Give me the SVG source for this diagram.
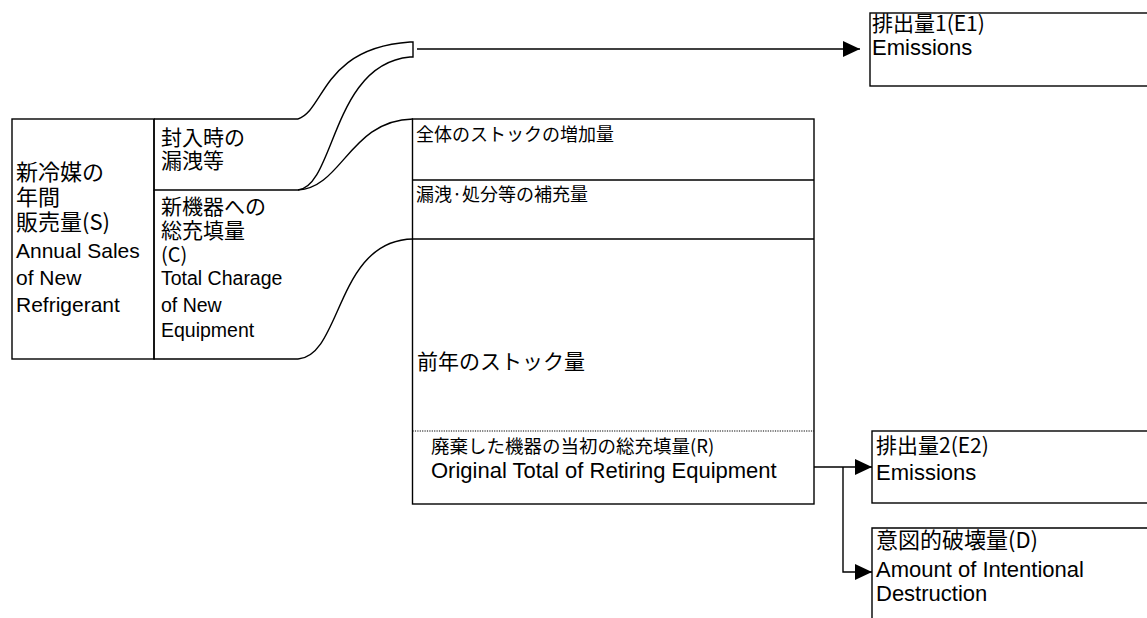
<svg xmlns="http://www.w3.org/2000/svg" width="1147" height="618" viewBox="0 0 1147 618">
<style>
.ln{fill:none;stroke:#000;stroke-width:1.4}
.bx{fill:#fff;stroke:#000;stroke-width:1.4}
.jp{font-family:"Noto Sans CJK JP","Liberation Sans",sans-serif;fill:#000}
.en{font-family:"Liberation Sans","Noto Sans CJK JP",sans-serif;fill:#000}
</style>
<defs>
<marker id="ah" markerUnits="userSpaceOnUse" markerWidth="17" markerHeight="16" refX="17" refY="8" orient="auto">
<path d="M0,0 L17,8 L0,16 Z" fill="#000"/>
</marker>
</defs>
<rect width="1147" height="618" fill="#fff"/>

<g id="connectors">
<path class="ln" d="M298,119 C325,110 322,48 410,42 L413,42 L413,57 L410,57 C332,64 335,186 298,190"/>
<path class="ln" d="M298,190 C342,188 350,120 413,119"/>
<path class="ln" d="M298,359 C342,356 336,240 413,239"/>
<path class="ln" d="M417,49 H860" marker-end="url(#ah)"/>
<path class="ln" d="M814,467 H872" marker-end="url(#ah)"/>
<path class="ln" d="M843,467 V572 H872" marker-end="url(#ah)"/>
</g>

<g id="node-sales">
<rect class="bx" x="12" y="119" width="142" height="240"/>
<text class="jp" font-size="22" x="16" y="180">新冷媒の</text>
<text class="jp" font-size="22" x="16" y="205">年間</text>
<text class="jp" font-size="22" x="16" y="230">販売量(S)</text>
<text class="en" font-size="21" x="16" y="258">Annual Sales</text>
<text class="en" font-size="21" x="16" y="285">of New</text>
<text class="en" font-size="21" x="16" y="312">Refrigerant</text>
</g>

<g id="node-leak">
<path class="ln" d="M154,119 H298 M154,119 V190 H298"/>
<text class="jp" font-size="21" x="161" y="145">封入時の</text>
<text class="jp" font-size="21" x="161" y="168">漏洩等</text>
</g>

<g id="node-charge">
<path class="ln" d="M154,190 V359 H298"/>
<text class="jp" font-size="21" x="161" y="214">新機器への</text>
<text class="jp" font-size="21" x="161" y="238">総充填量</text>
<text class="jp" font-size="20" x="161" y="262">(C)</text>
<text class="en" font-size="19.5" x="161" y="285">Total Charage</text>
<text class="en" font-size="19.5" x="161" y="312">of New</text>
<text class="en" font-size="19.5" x="161" y="337">Equipment</text>
</g>

<g id="node-stock">
<rect class="bx" x="412.5" y="119" width="401.5" height="385"/>
<path class="ln" d="M412.5,180 H814 M412.5,239 H814"/>
<path d="M412.5,431 H814" fill="none" stroke="#000" stroke-width="1.2" stroke-dasharray="1.2,1.2"/>
<text class="jp" font-size="18" x="416" y="141">全体のストックの増加量</text>
<text class="jp" font-size="18" x="416" y="201">漏洩·処分等の補充量</text>
<text class="jp" font-size="21" x="417" y="369">前年のストック量</text>
<text class="jp" font-size="18.5" x="431" y="453">廃棄した機器の当初の総充填量(R)</text>
<text class="en" font-size="22" x="431" y="478">Original Total of Retiring Equipment</text>
</g>

<g id="node-e1">
<rect class="bx" x="870" y="13" width="300" height="73"/>
<text class="jp" font-size="21" x="872" y="31">排出量1(E1)</text>
<text class="en" font-size="22" x="872" y="55">Emissions</text>
</g>

<g id="node-e2">
<rect class="bx" x="872" y="431" width="300" height="72"/>
<text class="jp" font-size="21" x="876" y="453">排出量2(E2)</text>
<text class="en" font-size="22" x="876" y="480">Emissions</text>
</g>

<g id="node-d">
<path class="ln" d="M872,620 V528 H1150"/>
<text class="jp" font-size="22" x="876" y="548">意図的破壊量(D)</text>
<text class="en" font-size="22" x="876" y="577">Amount of Intentional</text>
<text class="en" font-size="22" x="876" y="601">Destruction</text>
</g>
</svg>
